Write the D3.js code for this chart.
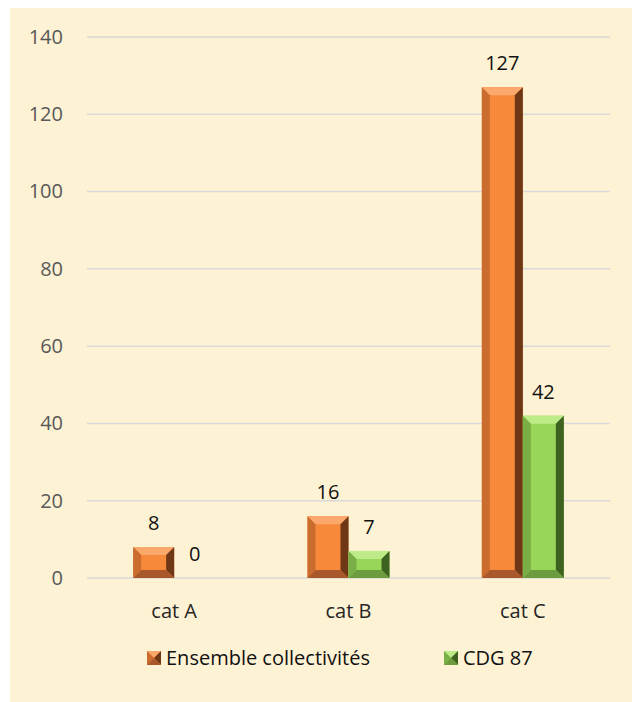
<!DOCTYPE html>
<html>
<head>
<meta charset="utf-8">
<script src="https://cdn.jsdelivr.net/npm/d3@7"></script>
<style>
  body { margin: 0; background: #fff; }
  svg { display: block; }
</style>
</head>
<body>
<div id="chart"></div>
<script>
// Data
const categories = ["cat A", "cat B", "cat C"];
const seriesNames = ["Ensemble collectivités", "CDG 87"];
const ensembleValues = [8, 16, 127];
const cdgValues = [0, 7, 42];
const yTicks = [0, 20, 40, 60, 80, 100, 120, 140];

const width = 632, height = 702;
const margin = { top: 37, right: 22, bottom: 124, left: 87 };
const font = "'Open Sans', 'Liberation Sans', Arial, sans-serif";
const fontSize = 20;

// bevel shading for each series: face, top, left, right, bottom
const palettes = [
  { face: "#F7893B", top: "#FBA86C", left: "#C96C2E", right: "#6E3715", bottom: "#A8582A" },
  { face: "#98D65A", top: "#BDEB88", left: "#7AAE46", right: "#3E6220", bottom: "#6C9C3E" }
];

let svg = d3.select("#chart").append("svg")
  .attr("width", width).attr("height", height);

// cream panel
svg.append("rect")
  .attr("x", 10).attr("y", 8)
  .attr("width", width - 10).attr("height", height - 8)
  .attr("fill", "#FEF2D4");

let plotW = width - margin.left - margin.right;
let plotH = height - margin.top - margin.bottom;

let g = svg.append("g")
  .attr("transform", "translate(" + margin.left + "," + margin.top + ")");

let xScale = d3.scaleBand().domain(categories).range([0, plotW]);
let yScale = d3.scaleLinear().domain([0, 140]).range([plotH, 0]);

// grid lines
g.append("g").selectAll("line")
  .data(yTicks)
  .enter().append("line")
  .attr("x1", 0).attr("x2", plotW)
  .attr("y1", d => yScale(d)).attr("y2", d => yScale(d))
  .attr("stroke", "#D9D9D9").attr("stroke-width", 1.5);

// y axis labels
let yAxis = g.append("g").call(d3.axisLeft(yScale).tickValues(yTicks).tickSize(0).tickPadding(24));
yAxis.select(".domain").remove();
yAxis.selectAll("text")
  .attr("font-family", font).attr("font-size", fontSize).attr("fill", "#595959");

// x axis labels
let xAxis = g.append("g")
  .attr("transform", "translate(0," + plotH + ")")
  .call(d3.axisBottom(xScale).tickSize(0).tickPadding(26));
xAxis.select(".domain").remove();
xAxis.selectAll("text")
  .attr("font-family", font).attr("font-size", fontSize).attr("fill", "#262626");

let barW = 41;
let series = [ensembleValues, cdgValues];

// draw a bevelled bar
function bevelBar(sel, x, y, w, h, pal) {
  let bar = sel.append("g");
  if (h <= 0) return bar;
  let b = Math.min(8, h / 2, w / 2);
  bar.append("rect").attr("x", x).attr("y", y).attr("width", w).attr("height", h).attr("fill", pal.face);
  let poly = (pts, fill) => bar.append("polygon")
    .attr("points", pts.map(p => p.join(",")).join(" "))
    .attr("fill", fill);
  poly([[x, y], [x + w, y], [x + w - b, y + b], [x + b, y + b]], pal.top);
  poly([[x, y], [x + b, y + b], [x + b, y + h - b], [x, y + h]], pal.left);
  poly([[x + w, y], [x + w - b, y + b], [x + w - b, y + h - b], [x + w, y + h]], pal.right);
  poly([[x, y + h], [x + b, y + h - b], [x + w - b, y + h - b], [x + w, y + h]], pal.bottom);
  return bar;
}

series.forEach((vals, si) => {
  vals.forEach((v, ci) => {
    let cx = xScale(categories[ci]) + xScale.bandwidth() / 2;
    let x = cx - barW + si * barW;
    let y = yScale(v);
    bevelBar(g, x, y, barW, yScale(0) - y, palettes[si]);
    g.append("text")
      .attr("x", x + barW / 2)
      .attr("y", y - 17)
      .attr("text-anchor", "middle")
      .attr("font-family", font).attr("font-size", fontSize).attr("fill", "#111")
      .text(v);
  });
});

// legend
let legendX = [147, 444];
let legend = svg.append("g");
seriesNames.forEach((name, i) => {
  bevelBar(legend, legendX[i], 651, 14, 14, palettes[i]);
  legend.append("text")
    .attr("x", legendX[i] + 19).attr("y", 665)
    .attr("font-family", font).attr("font-size", fontSize).attr("fill", "#111")
    .text(name);
});
</script>
</body>
</html>
